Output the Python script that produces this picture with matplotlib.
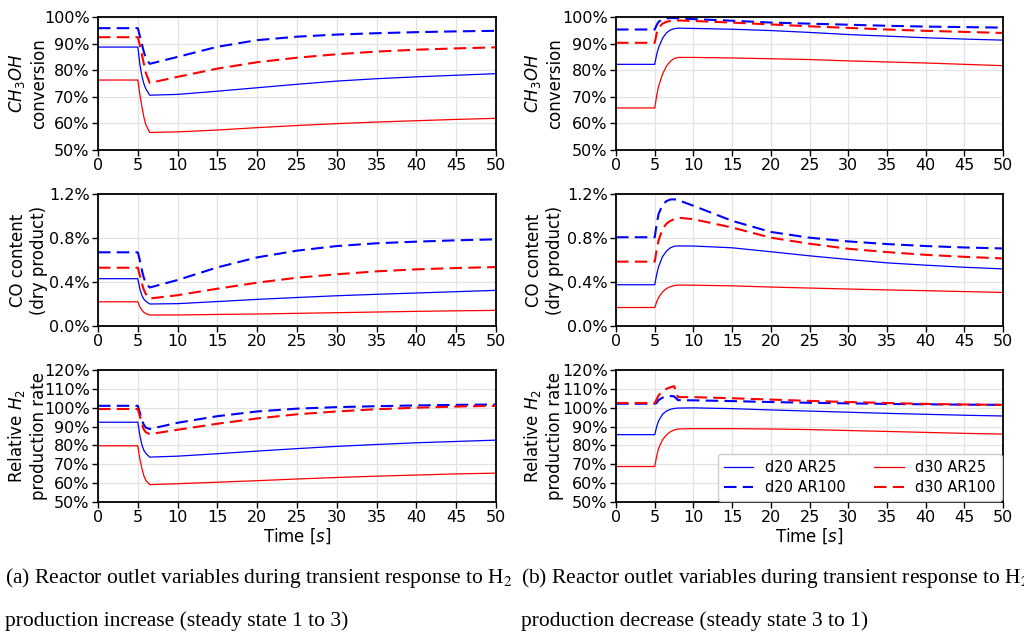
import matplotlib
matplotlib.use("Agg")
import matplotlib.pyplot as plt
from matplotlib.ticker import FuncFormatter

# time grids (s): (a) production increase, (b) production decrease
t_inc = [0, 5, 5.25, 5.5, 5.75, 6, 6.5, 10, 15, 20, 25, 30, 35, 40, 45, 50]
t_dec = [0, 5, 5.25, 5.5, 6, 6.5, 7, 7.5, 8, 10, 15, 20, 25, 30, 35, 40, 45, 50]

# CH3OH conversion [%]
conv_inc_d20_ar25 = [88.7, 88.7, 82.5, 78, 75, 73, 70.6, 70.9, 72.1, 73.4, 74.7, 75.9, 76.8, 77.5, 78.1, 78.7]
conv_inc_d20_ar100 = [95.8, 95.8, 93, 90, 87, 84.5, 82.4, 85, 88.8, 91.3, 92.6, 93.4, 93.9, 94.3, 94.6, 94.8]
conv_inc_d30_ar25 = [76.3, 76.3, 71, 66.5, 62.5, 59.5, 56.6, 56.8, 57.5, 58.4, 59.2, 59.9, 60.5, 61.0, 61.5, 61.9]
conv_inc_d30_ar100 = [92.4, 92.4, 89.5, 86, 82.5, 79, 75.2, 77.5, 80.6, 83.0, 84.7, 86.0, 87.0, 87.7, 88.2, 88.6]

conv_dec_d20_ar25 = [82.2, 82.2, 86, 88.5, 92, 94, 95.1, 95.6, 95.8, 95.7, 95.4, 94.9, 94.2, 93.4, 92.8, 92.2, 91.7, 91.3]
conv_dec_d20_ar100 = [95.3, 95.3, 97, 98.2, 99.2, 99.5, 99.6, 99.6, 99.5, 99.2, 98.6, 97.9, 97.5, 97.1, 96.7, 96.4, 96.2, 96.0]
conv_dec_d30_ar25 = [65.8, 65.8, 70.5, 74, 78.5, 81.5, 83.3, 84.4, 84.8, 84.8, 84.6, 84.3, 84.0, 83.5, 83.1, 82.7, 82.2, 81.7]
conv_dec_d30_ar100 = [90.3, 90.3, 94, 96, 97.5, 98.2, 98.5, 98.7, 98.7, 98.5, 97.9, 97.2, 96.5, 95.9, 95.3, 94.8, 94.4, 94.0]

# CO content in dry product [%]
co_inc_d20_ar25 = [0.43, 0.43, 0.34, 0.28, 0.245, 0.225, 0.20, 0.203, 0.222, 0.242, 0.259, 0.275, 0.288, 0.300, 0.312, 0.324]
co_inc_d20_ar100 = [0.67, 0.67, 0.60, 0.51, 0.44, 0.39, 0.35, 0.418, 0.533, 0.624, 0.685, 0.727, 0.752, 0.767, 0.779, 0.788]
co_inc_d30_ar25 = [0.22, 0.22, 0.175, 0.145, 0.125, 0.113, 0.10, 0.10, 0.105, 0.109, 0.115, 0.121, 0.127, 0.133, 0.138, 0.142]
co_inc_d30_ar100 = [0.53, 0.53, 0.46, 0.39, 0.33, 0.29, 0.25, 0.28, 0.339, 0.394, 0.439, 0.47, 0.497, 0.515, 0.527, 0.536]

co_dec_d20_ar25 = [0.375, 0.375, 0.47, 0.54, 0.63, 0.68, 0.71, 0.725, 0.728, 0.727, 0.711, 0.675, 0.638, 0.605, 0.574, 0.553, 0.534, 0.519]
co_dec_d20_ar100 = [0.807, 0.807, 0.93, 1.02, 1.10, 1.135, 1.15, 1.152, 1.145, 1.093, 0.956, 0.855, 0.803, 0.769, 0.745, 0.727, 0.714, 0.705]
co_dec_d30_ar25 = [0.168, 0.168, 0.22, 0.26, 0.31, 0.34, 0.357, 0.367, 0.372, 0.371, 0.365, 0.354, 0.345, 0.336, 0.328, 0.321, 0.313, 0.305]
co_dec_d30_ar100 = [0.585, 0.585, 0.70, 0.78, 0.88, 0.93, 0.955, 0.972, 0.985, 0.971, 0.895, 0.803, 0.748, 0.702, 0.672, 0.647, 0.629, 0.614]

# relative H2 production rate [%]
h2_inc_d20_ar25 = [92.3, 92.3, 85.5, 80.5, 77.5, 75.8, 73.8, 74.3, 75.6, 77.0, 78.3, 79.5, 80.5, 81.4, 82.1, 82.8]
h2_inc_d20_ar100 = [101, 101, 97.5, 93.5, 91, 89.5, 88.7, 92, 95.5, 98, 99.5, 100.3, 100.8, 101.2, 101.5, 101.7]
h2_inc_d30_ar25 = [79.8, 79.8, 73, 68, 64, 61.5, 59.2, 59.7, 60.5, 61.3, 62.2, 63.0, 63.7, 64.3, 64.9, 65.3]
h2_inc_d30_ar100 = [99.3, 99.3, 95.5, 91.5, 88.5, 87, 86, 88.3, 91.5, 94.3, 96.5, 98.0, 99.2, 100.0, 100.6, 101.0]

h2_dec_d20_ar25 = [85.7, 85.7, 90, 93, 96.5, 98.2, 99.1, 99.6, 99.8, 99.9, 99.5, 98.8, 98.2, 97.6, 97.0, 96.5, 96.0, 95.6]
h2_dec_d20_ar100 = [102.1, 102.1, 102.5, 104, 105.3, 105.8, 106.2, 106.0, 104.0, 103.9, 103.5, 103.0, 102.6, 102.3, 102.0, 101.8, 101.6, 101.5]
h2_dec_d30_ar25 = [68.8, 68.8, 74.5, 78.5, 83, 85.5, 87.2, 88.2, 88.7, 88.9, 88.9, 88.7, 88.4, 87.9, 87.4, 86.9, 86.4, 86.0]
h2_dec_d30_ar100 = [102.5, 102.5, 104.5, 106.5, 108.8, 110.0, 110.8, 111.4, 105.6, 105.6, 105.0, 104.3, 103.6, 103.0, 102.5, 102.0, 101.7, 101.5]

case_labels = ["d20 AR25", "d20 AR100", "d30 AR25", "d30 AR100"]
case_colors = ["blue", "blue", "red", "red"]
case_dashed = [False, True, False, True]

ylabels = ["$CH_3OH$\nconversion", "CO content\n(dry product)", "Relative $H_2$\nproduction rate"]
ylims = [(50, 100), (0, 1.2), (50, 120)]
yticks = [[50, 60, 70, 80, 90, 100], [0, 0.4, 0.8, 1.2], [50, 60, 70, 80, 90, 100, 110, 120]]
yfmt = ["{:.0f}%", "{:.1f}%", "{:.0f}%"]

panels = {
    "inc": (t_inc, [
        [conv_inc_d20_ar25, conv_inc_d20_ar100, conv_inc_d30_ar25, conv_inc_d30_ar100],
        [co_inc_d20_ar25, co_inc_d20_ar100, co_inc_d30_ar25, co_inc_d30_ar100],
        [h2_inc_d20_ar25, h2_inc_d20_ar100, h2_inc_d30_ar25, h2_inc_d30_ar100],
    ]),
    "dec": (t_dec, [
        [conv_dec_d20_ar25, conv_dec_d20_ar100, conv_dec_d30_ar25, conv_dec_d30_ar100],
        [co_dec_d20_ar25, co_dec_d20_ar100, co_dec_d30_ar25, co_dec_d30_ar100],
        [h2_dec_d20_ar25, h2_dec_d20_ar100, h2_dec_d30_ar25, h2_dec_d30_ar100],
    ]),
}

fig = plt.figure(figsize=(10.24, 6.32), dpi=100)

col_x = {"inc": (0.0957, 0.3887), "dec": (0.6016, 0.3780)}
# ylabel position (axes fraction) so that all rows line up
col_label_x = {"inc": -0.126, "dec": -0.135}
row_y = [(0.7627, 0.2104), (0.4842, 0.2088), (0.2057, 0.2089)]

for key, (t, rows) in panels.items():
    x0, w = col_x[key]
    for r, series in enumerate(rows):
        y0, h = row_y[r]
        ax = fig.add_axes([x0, y0, w, h])
        handles = []
        for vals, c, dashed, lab in zip(series, case_colors, case_dashed, case_labels):
            if dashed:
                ln, = ax.plot(t, vals, color=c, lw=1.5, dashes=(6, 3), label=lab)
            else:
                ln, = ax.plot(t, vals, color=c, lw=0.9, label=lab)
            handles.append(ln)
        ax.set_xlim(0, 50)
        ax.set_ylim(*ylims[r])
        ax.set_xticks(range(0, 51, 5))
        ax.set_yticks(yticks[r])
        ax.yaxis.set_major_formatter(FuncFormatter(lambda v, p, f=yfmt[r]: f.format(v)))
        ax.grid(True, color="#e3e3e3", lw=0.9)
        ax.set_axisbelow(True)
        ax.tick_params(labelsize=11.5, length=4, width=1, pad=2)
        for s in ax.spines.values():
            s.set_linewidth(1.3)
        ax.set_ylabel(ylabels[r], fontsize=12)
        ax.yaxis.set_label_coords(col_label_x[key], 0.5)
        if r == 2:
            ax.set_xlabel("Time [$s$]", fontsize=12, labelpad=1)
            if key == "dec":
                ax.legend(handles, case_labels, ncol=2, loc="lower right",
                          fontsize=10.5, handlelength=2.0, columnspacing=2.0,
                          borderaxespad=0.1, labelspacing=0.3,
                          framealpha=1, edgecolor="#cccccc")

cap_kw = dict(family="Liberation Serif", fontsize=15.5, math_fontfamily="stix", va="baseline")
fig.text(0.005, 0.077, "(a) Reactor outlet variables during transient response to H$_2$", **cap_kw)
fig.text(0.005, 0.009, "production increase (steady state 1 to 3)", **cap_kw)
fig.text(0.509, 0.077, "(b) Reactor outlet variables during transient response to H$_2$", **cap_kw)
fig.text(0.509, 0.009, "production decrease (steady state 3 to 1)", **cap_kw)

fig.savefig("out.png", dpi=100)
